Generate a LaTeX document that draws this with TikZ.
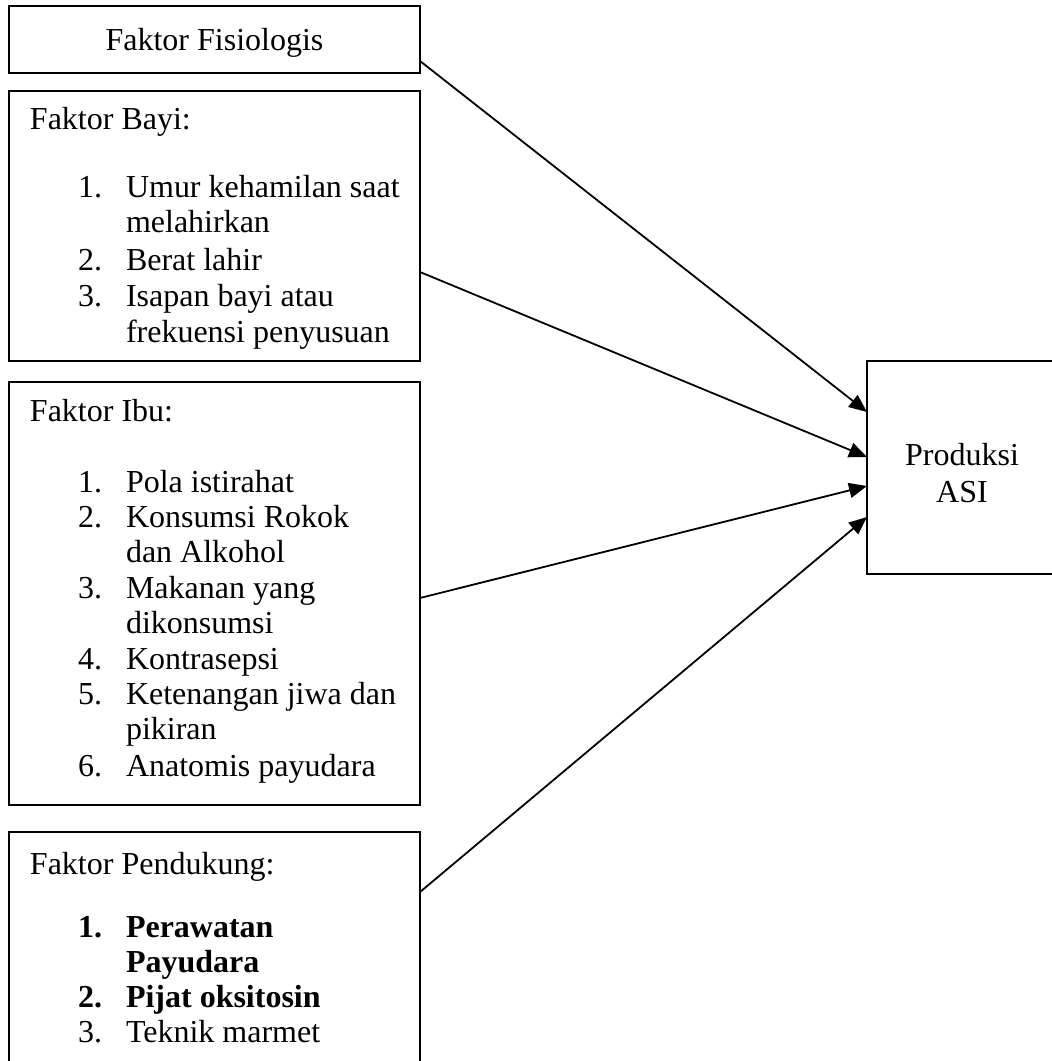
\documentclass[tikz,border=0pt]{standalone}
\usepackage{fontspec}
\setmainfont{Liberation Serif}
\usetikzlibrary{arrows.meta}
\tikzset{
  box/.style={draw, line width=1.2pt, anchor=north west, inner sep=0pt, outer sep=0pt, minimum width=205.5pt},
  txt/.style={anchor=base west, inner sep=0pt, outer sep=0pt, font=\fontsize{16}{18}\selectfont},
  ctxt/.style={anchor=base, inner sep=0pt, outer sep=0pt, font=\fontsize{16}{18}\selectfont},
  btxt/.style={txt, font=\fontsize{16}{18}\selectfont\bfseries},
  arr/.style={-{Triangle[length=9pt,width=7.5pt]}, line width=0.9pt}
}
\begin{document}
\begin{tikzpicture}[x=0.5pt,y=-0.5pt]
\useasboundingbox (0,0) rectangle (1052,1061);
% boxes
\node[box, minimum height=33.5pt] (fis) at (9,6) {};
\node[box, minimum height=135pt] (bayi) at (9,91) {};
\node[box, minimum height=211.5pt] (ibu) at (9,382) {};
\node[box, minimum height=125pt] (dukung) at (9,832) {};
\node[box, minimum width=100pt, minimum height=106.5pt] (asi) at (867,361) {};
% box 1
\node[ctxt] (fist) at (214.5,50) {Faktor Fisiologis};
% box 2
\node[txt] (b0) at (30,129) {Faktor Bayi:};
\node[txt] (b1n) at (78,197) {1.};
\node[txt] (b1) at (126,197) {Umur kehamilan saat};
\node[txt] (b1b) at (126,232) {melahirkan};
\node[txt] (b2n) at (78,270) {2.};
\node[txt] (b2) at (126,270) {Berat lahir};
\node[txt] (b3n) at (78,306) {3.};
\node[txt] (b3) at (126,306) {Isapan bayi atau};
\node[txt] (b3b) at (126,342) {frekuensi penyusuan};
% box 3
\node[txt] (i0) at (30,421) {Faktor Ibu:};
\node[txt] (i1n) at (78,492) {1.};
\node[txt] (i1) at (126,492) {Pola istirahat};
\node[txt] (i2n) at (78,527) {2.};
\node[txt] (i2) at (126,527) {Konsumsi Rokok};
\node[txt] (i2b) at (126,562) {dan Alkohol};
\node[txt] (i3n) at (78,598) {3.};
\node[txt] (i3) at (126,598) {Makanan yang};
\node[txt] (i3b) at (126,633) {dikonsumsi};
\node[txt] (i4n) at (78,669) {4.};
\node[txt] (i4) at (126,669) {Kontrasepsi};
\node[txt] (i5n) at (78,704) {5.};
\node[txt] (i5) at (126,704) {Ketenangan jiwa dan};
\node[txt] (i5b) at (126,739) {pikiran};
\node[txt] (i6n) at (78,776) {6.};
\node[txt] (i6) at (126,776) {Anatomis payudara};
% box 4
\node[txt] (d0) at (30,874) {Faktor Pendukung:};
\node[btxt] (d1n) at (78,937) {1.};
\node[btxt] (d1) at (126,937) {Perawatan};
\node[btxt] (d1b) at (126,972) {Payudara};
\node[btxt] (d2n) at (78,1007) {2.};
\node[btxt] (d2) at (126,1007) {Pijat oksitosin};
\node[txt] (d3n) at (78,1042) {3.};
\node[txt] (d3) at (126,1042) {Teknik marmet};
% produksi
\node[ctxt] (asi1) at (962,465) {Produksi};
\node[ctxt] (asi2) at (962,502) {ASI};
% arrows
\draw[arr] ([yshift=-27.5pt]fis.north east) -- ([yshift=-25.5pt]asi.north west);
\draw[arr] ([yshift=-90.5pt]bayi.north east) -- ([yshift=-48pt]asi.north west);
\draw[arr] ([yshift=-108pt]ibu.north east) -- ([yshift=-62.5pt]asi.north west);
\draw[arr] ([yshift=-30pt]dukung.north east) -- ([yshift=-78pt]asi.north west);
\end{tikzpicture}
\end{document}
